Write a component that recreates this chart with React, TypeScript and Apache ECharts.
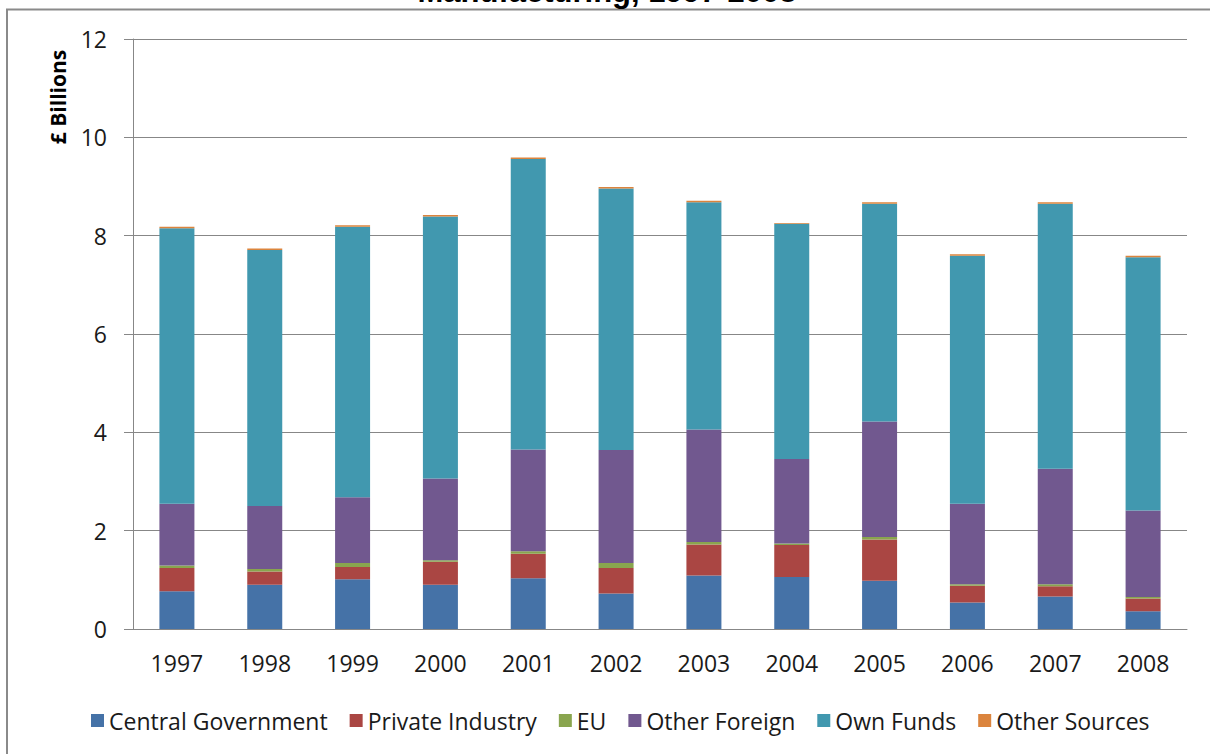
import React, { useEffect, useRef } from "react";
import * as echarts from "echarts";

// R&D funding sources for manufacturing, £ billions per year
const years = ["1997", "1998", "1999", "2000", "2001", "2002", "2003", "2004", "2005", "2006", "2007", "2008"];
const centralGovernment = [0.77, 0.9, 1.01, 0.9, 1.03, 0.72, 1.09, 1.06, 0.98, 0.54, 0.66, 0.36];
const privateIndustry = [0.47, 0.27, 0.25, 0.47, 0.5, 0.52, 0.63, 0.65, 0.84, 0.34, 0.21, 0.26];
const euFunding = [0.05, 0.05, 0.08, 0.03, 0.05, 0.1, 0.05, 0.03, 0.05, 0.03, 0.04, 0.03];
const otherForeign = [1.26, 1.28, 1.34, 1.66, 2.07, 2.3, 2.29, 1.72, 2.35, 1.64, 2.35, 1.76];
const ownFunds = [5.6, 5.21, 5.5, 5.33, 5.91, 5.32, 4.62, 4.78, 4.43, 5.04, 5.39, 5.15];
const otherSources = [0.03, 0.03, 0.03, 0.03, 0.03, 0.03, 0.03, 0.02, 0.03, 0.03, 0.03, 0.03];

const seriesNames = ["Central Government", "Private Industry", "EU", "Other Foreign", "Own Funds", "Other Sources"];
const seriesData = [centralGovernment, privateIndustry, euFunding, otherForeign, ownFunds, otherSources];
const palette = ["#4572A7", "#AA4643", "#89A54E", "#71588F", "#4198AF", "#DB843D"];

const FONT = "'Open Sans', 'Noto Sans', sans-serif";
const AXIS_GREY = "#878787";

export default function App() {
  const ref = useRef<HTMLDivElement>(null);

  useEffect(() => {
    if (!ref.current) return;
    const chart = echarts.init(ref.current, null, { renderer: "svg" });
    chart.setOption({
      animation: false,
      color: palette,
      backgroundColor: "#ffffff",
      grid: { left: 133, right: 23, top: 39, bottom: 125, containLabel: false },
      legend: {
        bottom: 17,
        left: 86,
        itemWidth: 13,
        itemHeight: 13,
        itemGap: 22,
        icon: "rect",
        textStyle: { fontFamily: FONT, fontSize: 23, color: "#1a1a1a" },
        data: seriesNames,
      },
      xAxis: {
        type: "category",
        data: years,
        axisLine: { lineStyle: { color: AXIS_GREY, width: 1 } },
        axisTick: { alignWithLabel: false, length: 8, lineStyle: { color: AXIS_GREY } },
        axisLabel: { fontFamily: FONT, fontSize: 23, color: "#1a1a1a", margin: 22 },
      },
      yAxis: {
        type: "value",
        min: 0,
        max: 12,
        interval: 2,
        axisLine: { show: true, lineStyle: { color: AXIS_GREY, width: 1 } },
        axisTick: { show: true, length: 9, lineStyle: { color: AXIS_GREY } },
        axisLabel: { fontFamily: FONT, fontSize: 23, color: "#1a1a1a", margin: 26 },
        splitLine: { lineStyle: { color: AXIS_GREY, width: 1 } },
      },
      series: seriesNames.map((name, i) => ({
        name,
        type: "bar",
        stack: "total",
        barWidth: 35,
        data: seriesData[i],
        itemStyle: { color: palette[i] },
      })),
      graphic: [
        {
          type: "rect",
          silent: true,
          z: -1,
          shape: { x: 7, y: 9.5, width: 1400, height: 900 },
          style: { fill: "none", stroke: "#8a8a8a", lineWidth: 2 },
        },
        {
          type: "text",
          x: 607,
          y: -8.5,
          style: {
            text: "Manufacturing, 1997-2008",
            fontFamily: "'Liberation Sans', Arial, sans-serif",
            fontWeight: "bold",
            fontSize: 31,
            fill: "#000000",
            align: "center",
            verticalAlign: "middle",
          },
        },
        {
          type: "text",
          x: 58,
          y: 97,
          rotation: Math.PI / 2,
          style: {
            text: "£ Billions",
            fontFamily: FONT,
            fontWeight: "bold",
            fontSize: 21,
            fill: "#000000",
            align: "center",
            verticalAlign: "middle",
          },
        },
      ],
    });
    return () => chart.dispose();
  }, []);

  return (
    <div
      ref={ref}
      style={{ position: "fixed", left: 0, top: 0, width: 1210, height: 754 }}
    />
  );
}
